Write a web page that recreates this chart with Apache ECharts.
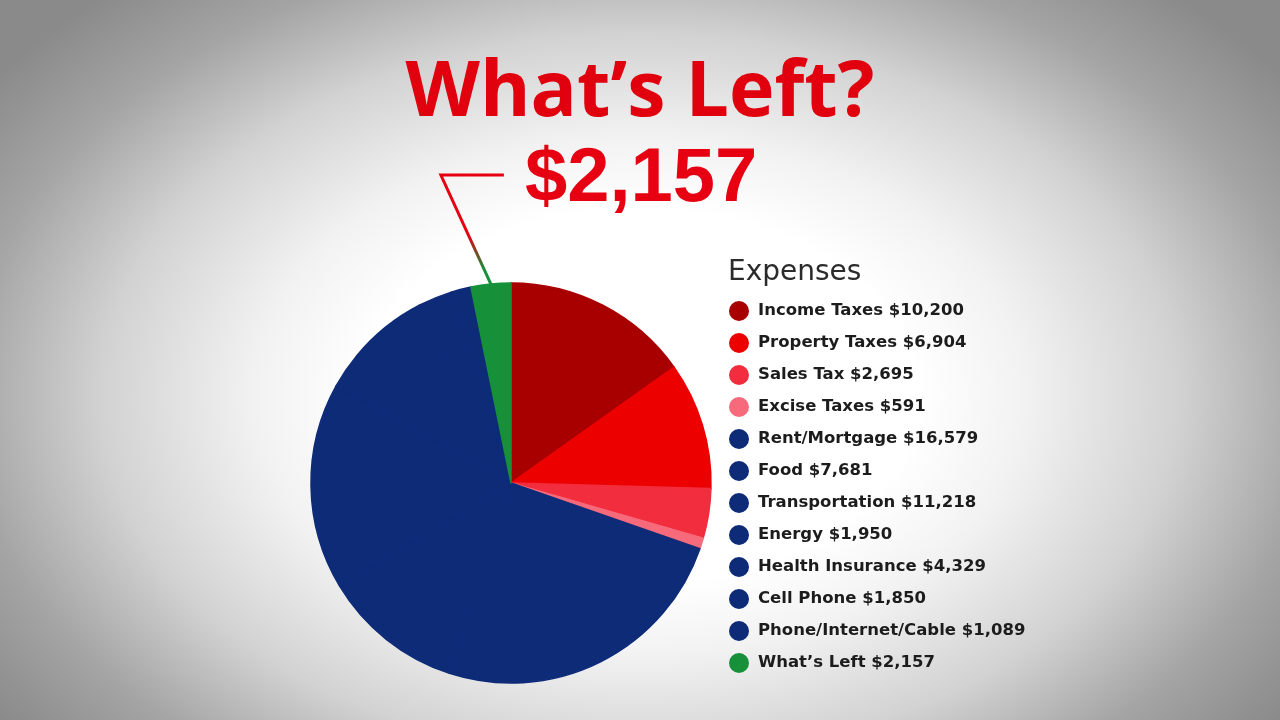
<!DOCTYPE html>
<html>
<head>
<meta charset="utf-8">
<script src="https://cdn.jsdelivr.net/npm/echarts@6/dist/echarts.min.js"></script>
<style>
    html, body {
        margin: 0;
        padding: 0;
        width: 1280px;
        height: 720px;
        overflow: hidden;
    }
    body {
        background: radial-gradient(ellipse 60% 72% at 50% 55%, #ffffff 36%, #f2f2f2 50%, #d2d2d2 70%, #a4a4a4 88%, #8a8a8a 104%);
    }
    #container {
        width: 1280px;
        height: 720px;
    }
</style>
</head>
<body>
<div id="container"></div>
<script>
    // expenses
    var categories = ['Income Taxes', 'Property Taxes', 'Sales Tax', 'Excise Taxes', 'Rent/Mortgage', 'Food',
        'Transportation', 'Energy', 'Health Insurance', 'Cell Phone', 'Phone/Internet/Cable', 'What\u2019s Left'];
    var values = [10200, 6904, 2695, 591, 16579, 7681, 11218, 1950, 4329, 1850, 1089, 2157];
    var colors = ['#a80000', '#ec0000', '#f22d3d', '#f66a7b', '#0e2b78', '#0e2b78', '#0e2b78', '#0e2b78',
        '#0e2b78', '#0e2b78', '#0e2b78', '#17903a'];
    var leftIndex = 11;

    function money(v) {
        return '$' + v.toLocaleString('en-US');
    }

    var lookup = {};
    categories.forEach(function (name, i) {
        lookup[name] = values[i];
    });

    var pieData = categories.map(function (name, i) {
        // border in the slice's own colour hides the seams between equal colours
        var item = {name: name, value: values[i], itemStyle: {color: colors[i], borderColor: colors[i]}};
        if (i === leftIndex) {
            item.label = {show: true};
            item.labelLine = {show: true};
        }
        return item;
    });

    var chart = echarts.init(document.getElementById('container'), null, {renderer: 'canvas'});
    chart.setOption({
        backgroundColor: 'transparent',
        animation: false,
        title: [{
            text: 'What\u2019s Left?',
            left: 'center',
            top: 44,
            textStyle: {
                color: '#e0000e',
                fontFamily: 'Open Sans',
                fontWeight: 'bold',
                fontSize: 77,
                lineHeight: 90
            }
        }, {
            text: 'Expenses',
            left: 728,
            top: 259,
            padding: 0,
            textStyle: {
                color: '#2b2b2b',
                fontFamily: 'DejaVu Sans',
                fontWeight: 'normal',
                fontSize: 28
            }
        }],
        legend: {
            orient: 'vertical',
            left: 729,
            top: 301,
            padding: 0,
            icon: 'circle',
            itemWidth: 18,
            itemHeight: 18,
            itemGap: 12,
            data: categories,
            formatter: function (name) {
                return name + ' ' + money(lookup[name]);
            },
            textStyle: {
                color: '#1c1c1c',
                fontFamily: 'DejaVu Sans',
                fontWeight: 'bold',
                fontSize: 16.5,
                padding: [0, 0, 0, 5]
            }
        },
        series: [{
            type: 'pie',
            center: [511, 483],
            radius: 200,
            startAngle: 90,
            clockwise: true,
            avoidLabelOverlap: false,
            itemStyle: {borderWidth: 1.5},
            label: {
                show: false,
                formatter: function (p) {
                    return money(p.value);
                },
                color: '#e60012',
                fontFamily: 'Liberation Sans',
                fontWeight: 'bold',
                fontSize: 76
            },
            labelLine: {
                show: false,
                lineStyle: {
                    width: 3,
                    color: new echarts.graphic.LinearGradient(0, 0, 0, 1, [
                        {offset: 0, color: '#e60012'},
                        {offset: 0.55, color: '#e60012'},
                        {offset: 0.85, color: '#17903a'},
                        {offset: 1, color: '#17903a'}
                    ])
                }
            },
            labelLayout: function (params) {
                if (params.dataIndex !== leftIndex || !params.labelLinePoints) return;
                var p0 = params.labelLinePoints[0];
                var knee = [p0[0] - 50, p0[1] - 109];
                var end = [knee[0] + 63, knee[1]];
                return {
                    x: end[0] + 21,
                    y: knee[1] + 5,
                    align: 'left',
                    verticalAlign: 'middle',
                    labelLinePoints: [p0, knee, end]
                };
            },
            emphasis: {disabled: true},
            data: pieData
        }]
    });
</script>
</body>
</html>
